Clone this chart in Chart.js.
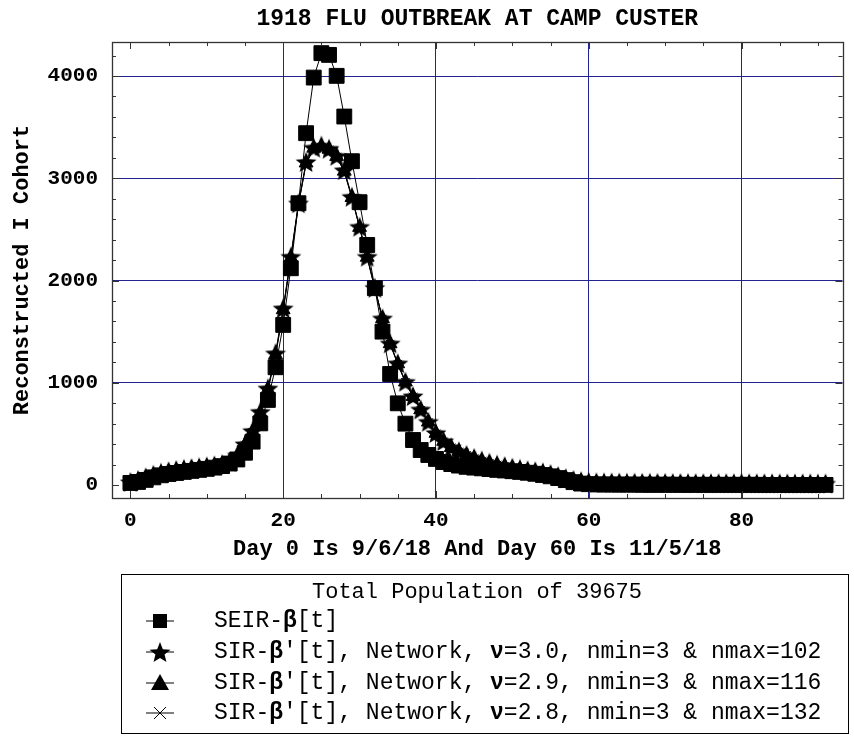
<!DOCTYPE html>
<html>
<head>
<meta charset="utf-8">
<script src="https://cdn.jsdelivr.net/npm/chart.js@4.4.1/dist/chart.umd.min.js"></script>
<style>
  html, body { margin: 0; padding: 0; background: #ffffff; }
  #wrap { width: 854px; height: 737px; }
</style>
</head>
<body>
<div id="wrap"><canvas id="c" width="854" height="737"></canvas></div>
<script>
// ---------------- DATA ----------------
const days = [0,1,2,3,4,5,6,7,8,9,10,11,12,13,14,15,16,17,18,19,20,21,22,23,24,25,26,27,28,29,
  30,31,32,33,34,35,36,37,38,39,40,41,42,43,44,45,46,47,48,49,50,51,52,53,54,55,56,57,58,59,
  60,61,62,63,64,65,66,67,68,69,70,71,72,73,74,75,76,77,78,79,80,81,82,83,84,85,86,87,88,89,90,91];

const seirBeta = [20,30,50,75,95,108,118,128,138,148,
  158,170,185,210,250,316,424,603,832,1152,
  1566,2120,2756,3441,3985,4224,4207,4002,3604,3167,
  2766,2348,1925,1500,1086,799,600,440,342,294,
  255,225,205,190,178,170,163,156,148,142,
  135,128,120,110,98,85,68,48,28,14,
  8,6,5,5,4,4,4,3,3,3,
  3,3,2,2,2,2,2,2,2,2,
  2,2,2,1,1,1,1,1,1,1,
  1,1];

const sirNu30 = [30,50,75,100,120,135,148,158,166,174,
  182,192,205,230,290,400,530,717,946,1289,
  1729,2234,2756,3160,3300,3320,3290,3220,3080,2820,
  2527,2234,1930,1631,1386,1191,1011,870,740,620,
  510,430,370,330,295,265,240,218,200,185,
  170,158,145,135,124,108,88,68,50,38,
  30,27,26,25,24,23,23,22,22,21,
  21,20,20,20,19,19,19,18,18,18,
  18,17,17,17,17,16,16,16,16,16,
  15,15];

const sirNu29 = [28,48,72,97,118,133,146,156,165,173,
  181,191,204,228,285,392,522,705,935,1275,
  1715,2222,2748,3150,3295,3312,3284,3214,3070,2812,
  2520,2228,1925,1628,1382,1186,1008,866,736,616,
  506,427,367,327,292,262,237,216,198,183,
  168,156,143,133,122,106,86,66,49,37,
  29,26,25,24,23,22,22,21,21,20,
  20,19,19,19,18,18,18,17,17,17,
  17,16,16,16,16,15,15,15,15,15,
  14,14];

const sirNu28 = [26,46,70,95,116,131,144,154,163,171,
  180,190,203,226,281,386,515,697,925,1262,
  1702,2210,2740,3140,3286,3304,3278,3208,3062,2806,
  2514,2222,1920,1624,1378,1182,1004,862,732,612,
  502,424,364,324,289,259,235,214,196,181,
  166,154,141,131,120,104,84,64,48,36,
  28,25,24,23,22,21,21,20,20,19,
  19,18,18,18,17,17,17,16,16,16,
  16,15,15,15,15,14,14,14,14,14,
  13,13];

const xTickLabels = [0, 20, 40, 60, 80];
const yTickLabels = [0, 1000, 2000, 3000, 4000];
const xMinorTicks = [0,5,10,15,20,25,30,35,40,45,50,55,60,65,70,75,80,85,90];
const yMinorTicks = [0,200,400,600,800,1000,1200,1400,1600,1800,2000,2200,2400,2600,2800,3000,3200,3400,3600,3800,4000,4200];
const gridDays = [20, 40, 60, 80];
const gridValues = [1000, 2000, 3000, 4000];

const chartTitle = '1918 FLU OUTBREAK AT CAMP CUSTER';
const xTitle = 'Day 0 Is 9/6/18 And Day 60 Is 11/5/18';
const yTitle = 'Reconstructed I Cohort';
const legendTitle = 'Total Population of 39675';
const legendRows = [
  [['SEIR-', false], ['\u03B2', true], ['[t]', false]],
  [['SIR-', false], ['\u03B2', true], ["'[t], Network, ", false], ['\u03BD', true], ['=3.0, nmin=3 & nmax=102', false]],
  [['SIR-', false], ['\u03B2', true], ["'[t], Network, ", false], ['\u03BD', true], ['=2.9, nmin=3 & nmax=116', false]],
  [['SIR-', false], ['\u03B2', true], ["'[t], Network, ", false], ['\u03BD', true], ['=2.8, nmin=3 & nmax=132', false]]
];

// ---------------- STYLE ----------------
const MONO = '"Liberation Mono", "Courier New", monospace';
const GRID = '#23238f';
const FRAME = '#333333';

function makeStar(R, r) {
  const s = Math.ceil(R * 2) + 2;
  const c = document.createElement('canvas');
  c.width = s; c.height = s;
  const g = c.getContext('2d');
  g.translate(s / 2, s / 2 + R * 0.1);
  g.fillStyle = '#000';
  g.beginPath();
  for (let i = 0; i < 10; i++) {
    const a = -Math.PI / 2 + i * Math.PI / 5;
    const rad = (i % 2) ? r : R;
    g.lineTo(rad * Math.cos(a), rad * Math.sin(a));
  }
  g.closePath();
  g.fill();
  return c;
}
const starImg = makeStar(11, 4.8);

function pts(arr) { return days.map((d, i) => ({ x: d, y: arr[i] })); }

const frameTicks = {
  id: 'frameTicks',
  afterDatasetsDraw(chart) {
    const { ctx, chartArea: a, scales: { x, y } } = chart;
    ctx.save();
    ctx.strokeStyle = FRAME;
    ctx.lineWidth = 1;
    ctx.beginPath();
    xMinorTicks.forEach(v => {
      const px = Math.round(x.getPixelForValue(v)) + 0.5;
      const len = xTickLabels.includes(v) ? 7 : 4;
      ctx.moveTo(px, a.bottom); ctx.lineTo(px, a.bottom - len);
      ctx.moveTo(px, a.top); ctx.lineTo(px, a.top + len);
    });
    yMinorTicks.forEach(v => {
      const py = Math.round(y.getPixelForValue(v)) + 0.5;
      const len = yTickLabels.includes(v) ? 7 : 4;
      ctx.moveTo(a.left, py); ctx.lineTo(a.left + len, py);
      ctx.moveTo(a.right, py); ctx.lineTo(a.right - len, py);
    });
    ctx.stroke();
    ctx.lineWidth = 1.3;
    ctx.strokeRect(Math.round(a.left) + 0.5, Math.round(a.top) + 0.5,
      Math.round(a.right - a.left), Math.round(a.bottom - a.top));
    ctx.restore();
  }
};

function drawLegendMarker(ctx, kind, cx, cy) {
  ctx.save();
  ctx.strokeStyle = '#000';
  ctx.fillStyle = '#000';
  ctx.lineWidth = 1;
  ctx.beginPath();
  ctx.moveTo(cx - 14, cy); ctx.lineTo(cx + 14, cy);
  ctx.stroke();
  if (kind === 0) {
    ctx.fillRect(cx - 7, cy - 7, 14, 14);
  } else if (kind === 1) {
    ctx.drawImage(starImg, cx - starImg.width / 2, cy - starImg.height / 2);
  } else if (kind === 2) {
    ctx.beginPath();
    ctx.moveTo(cx, cy - 9); ctx.lineTo(cx + 9, cy + 7); ctx.lineTo(cx - 9, cy + 7);
    ctx.closePath(); ctx.fill();
  } else {
    ctx.beginPath();
    ctx.moveTo(cx - 6, cy - 6); ctx.lineTo(cx + 6, cy + 6);
    ctx.moveTo(cx + 6, cy - 6); ctx.lineTo(cx - 6, cy + 6);
    ctx.stroke();
  }
  ctx.restore();
}

const boxLegend = {
  id: 'boxLegend',
  afterDraw(chart) {
    const ctx = chart.ctx;
    ctx.save();
    ctx.strokeStyle = '#000';
    ctx.lineWidth = 1;
    ctx.strokeRect(121.5, 574.5, 727, 159);
    ctx.fillStyle = '#000';
    ctx.textBaseline = 'middle';
    ctx.textAlign = 'center';
    ctx.font = '22px ' + MONO;
    ctx.fillText(legendTitle, 477, 592);
    ctx.textAlign = 'left';
    const rowsY = [621, 652, 683, 713];
    legendRows.forEach((segs, i) => {
      drawLegendMarker(ctx, i, 160, rowsY[i]);
      let xx = 214;
      segs.forEach(([txt, bold]) => {
        ctx.font = (bold ? 'bold ' : '') + '23px ' + MONO;
        ctx.fillText(txt, xx, rowsY[i]);
        xx += ctx.measureText(txt).width;
      });
    });
    ctx.restore();
  }
};

const common = { borderColor: '#000', borderWidth: 1, backgroundColor: '#000',
  pointBorderColor: '#000', pointBackgroundColor: '#000', tension: 0, fill: false };

new Chart(document.getElementById('c'), {
  type: 'line',
  data: {
    datasets: [
      Object.assign({}, common, { label: 'SEIR-\u03B2[t]', data: pts(seirBeta), pointStyle: 'rect', pointRadius: 10.5, order: 3 }),
      Object.assign({}, common, { label: "SIR-\u03B2'[t], Network, \u03BD=3.0, nmin=3 & nmax=102", data: pts(sirNu30), pointStyle: starImg, pointRadius: 10, order: 0 }),
      Object.assign({}, common, { label: "SIR-\u03B2'[t], Network, \u03BD=2.9, nmin=3 & nmax=116", data: pts(sirNu29), pointStyle: 'triangle', pointRadius: 8, order: 2 }),
      Object.assign({}, common, { label: "SIR-\u03B2'[t], Network, \u03BD=2.8, nmin=3 & nmax=132", data: pts(sirNu28), pointStyle: 'crossRot', pointRadius: 6, pointBorderWidth: 1, order: 1 })
    ]
  },
  options: {
    responsive: false,
    animation: false,
    devicePixelRatio: 1,
    layout: { padding: { left: 0, right: 8, top: 0, bottom: 169 } },
    plugins: {
      legend: { display: false },
      tooltip: { enabled: false },
      title: {
        display: true, text: chartTitle, color: '#000', fullSize: false,
        font: { family: MONO, size: 23, weight: 'bold', lineHeight: 1.2 },
        padding: { top: 5, bottom: 9.4 }
      }
    },
    scales: {
      x: {
        type: 'linear', min: -2.41, max: 93.22,
        afterBuildTicks: s => { s.ticks = xTickLabels.map(v => ({ value: v })); },
        afterFit: s => { s.height = 70; },
        ticks: { color: '#000', padding: 10.4, maxRotation: 0, autoSkip: false,
          font: { family: MONO, size: 21, weight: 'bold', lineHeight: 1.2 },
          callback: v => String(v) },
        grid: { drawTicks: false, lineWidth: 1,
          color: c => (c.tick && gridDays.includes(c.tick.value)) ? GRID : 'rgba(0,0,0,0)' },
        border: { display: false },
        title: { display: true, text: xTitle, color: '#000',
          font: { family: MONO, size: 22, weight: 'bold', lineHeight: 1.2 },
          padding: { top: 0, bottom: 5.8 } }
      },
      y: {
        type: 'linear', min: -127, max: 4333,
        afterBuildTicks: s => { s.ticks = yTickLabels.map(v => ({ value: v })); },
        afterFit: s => { s.width = 112; },
        ticks: { color: '#000', padding: 14, autoSkip: false,
          font: { family: MONO, size: 21, weight: 'bold', lineHeight: 1.2 },
          callback: v => String(v) },
        grid: { drawTicks: false, lineWidth: 1,
          color: c => (c.tick && gridValues.includes(c.tick.value)) ? GRID : 'rgba(0,0,0,0)' },
        border: { display: false },
        title: { display: true, text: yTitle, color: '#000',
          font: { family: MONO, size: 22, weight: 'bold', lineHeight: 1.2 },
          padding: { top: 9, bottom: 0 } }
      }
    }
  },
  plugins: [frameTicks, boxLegend]
});
</script>
</body>
</html>
